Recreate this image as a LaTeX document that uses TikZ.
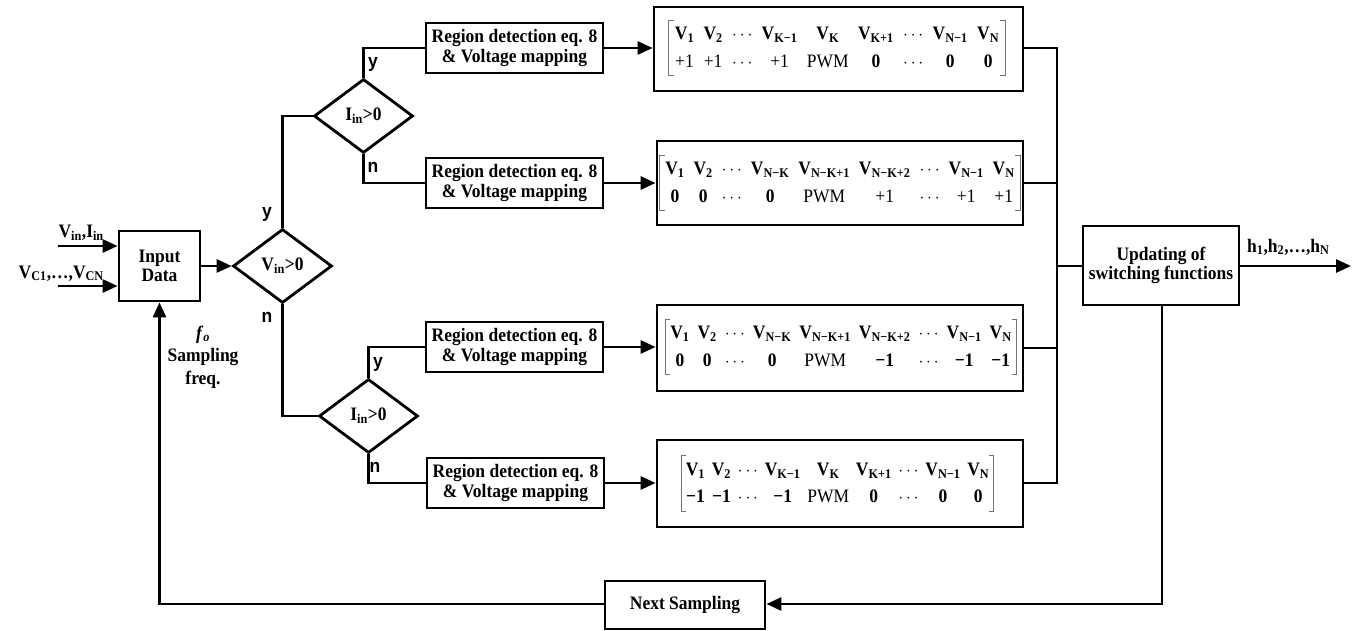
\documentclass[tikz,border=0pt]{standalone}
\usepackage{fontspec}
\setmainfont{Liberation Serif}[FakeStretch=0.92]
\newfontfamily\sansfam{Liberation Sans}[FakeStretch=0.92]
\usetikzlibrary{arrows.meta,shapes.geometric,calc}
\newcommand{\Vsub}[1]{V\textsubscript{#1}}
\newcommand{\mbrackets}[1]{%
  \draw[brk] ([xshift=5pt]#1.north west) -- (#1.north west) -- (#1.south west) -- ([xshift=5pt]#1.south west);
  \draw[brk] ([xshift=-5pt]#1.north east) -- (#1.north east) -- (#1.south east) -- ([xshift=-5pt]#1.south east);}
\tikzset{
  txt/.style={font=\fontsize{19}{19.5}\selectfont\bfseries},
  box/.style={draw, line width=2.8pt, rectangle, inner sep=0pt, align=center, txt},
  dia/.style={draw, diamond, line width=2.8pt, minimum width=99pt, minimum height=74pt, inner sep=0pt, txt},
  wire/.style={line width=2.8pt},
  arr/.style={wire, -{Triangle[length=15pt,width=13pt]}},
  yn/.style={font=\sansfam\bfseries\fontsize{19}{19}\selectfont, inner sep=0pt},
  lbl/.style={inner sep=0pt, txt},
  brk/.style={draw=black!55, line width=1pt},
  mtxt/.style={inner xsep=1pt, inner ysep=0pt, font=\fontsize{19}{27.5}\selectfont\bfseries}
}
\begin{document}
\begin{tikzpicture}[x=1pt,y=-1pt]
\useasboundingbox (0,0) rectangle (1359,631);
% main blocks
\node[box, minimum width=81pt, minimum height=70pt] (inp) at (159.5,266) {Input\\Data};
\node[dia] (d1) at (282.5,266) {V\textsubscript{in}>0};
\node[dia] (d2) at (363.5,116) {I\textsubscript{in}>0};
\node[dia] (d3) at (368.5,416) {I\textsubscript{in}>0};
\node[box, minimum width=177pt, minimum height=50pt] (r1) at (514.5,48) {Region detection eq. 8\\\& Voltage mapping};
\node[box, minimum width=177pt, minimum height=50pt] (r2) at (514.5,183) {Region detection eq. 8\\\& Voltage mapping};
\node[box, minimum width=177pt, minimum height=50pt] (r3) at (514.5,347) {Region detection eq. 8\\\& Voltage mapping};
\node[box, minimum width=177pt, minimum height=50pt] (r4) at (515.5,483) {Region detection eq. 8\\\& Voltage mapping};
\node[box, minimum width=369pt, minimum height=84pt] (m1) at (838.5,49) {};
\node[box, minimum width=366pt, minimum height=84pt] (m2) at (840,183) {};
\node[box, minimum width=366pt, minimum height=86pt] (m3) at (840,348) {};
\node[box, minimum width=366pt, minimum height=87pt] (m4) at (840,483.5) {};
\node[box, minimum width=156pt, minimum height=79pt] (upd) at (1161,265.5) {Updating of\\switching functions};
\node[box, minimum width=160pt, minimum height=48pt] (nxt) at (685,605) {Next Sampling};
% matrices
\node[mtxt] (t1) at ([xshift=-1.5pt,yshift=1pt]m1.center) {\setlength\tabcolsep{4.7pt}\begin{tabular}{ccccccccc}
\Vsub{1} & \Vsub{2} & $\cdots$ & \Vsub{K−1} & \Vsub{K} & \Vsub{K+1} & $\cdots$ & \Vsub{N−1} & \Vsub{N}\\
\mdseries +1 & \mdseries +1 & $\cdots$ & \mdseries +1 & \mdseries PWM & 0 & $\cdots$ & 0 & 0
\end{tabular}};
\node[mtxt] (t2) at (m2.center) {\setlength\tabcolsep{4.5pt}\begin{tabular}{ccccccccc}
\Vsub{1} & \Vsub{2} & $\cdots$ & \Vsub{N−K} & \Vsub{N−K+1} & \Vsub{N−K+2} & $\cdots$ & \Vsub{N−1} & \Vsub{N}\\
0 & 0 & $\cdots$ & 0 & \mdseries PWM & \mdseries +1 & $\cdots$ & \mdseries +1 & \mdseries +1
\end{tabular}};
\node[mtxt] (t3) at ([xshift=1pt,yshift=1pt]m3.center) {\setlength\tabcolsep{4pt}\begin{tabular}{ccccccccc}
\Vsub{1} & \Vsub{2} & $\cdots$ & \Vsub{N−K} & \Vsub{N−K+1} & \Vsub{N−K+2} & $\cdots$ & \Vsub{N−1} & \Vsub{N}\\
0 & 0 & $\cdots$ & 0 & \mdseries PWM & −1 & $\cdots$ & −1 & −1
\end{tabular}};
\node[mtxt] (t4) at ([xshift=-2.5pt]m4.center) {\setlength\tabcolsep{3.4pt}\begin{tabular}{ccccccccc}
\Vsub{1} & \Vsub{2} & $\cdots$ & \Vsub{K−1} & \Vsub{K} & \Vsub{K+1} & $\cdots$ & \Vsub{N−1} & \Vsub{N}\\
−1 & −1 & $\cdots$ & −1 & \mdseries PWM & 0 & $\cdots$ & 0 & 0
\end{tabular}};
\mbrackets{t1}
\mbrackets{t2}
\mbrackets{t3}
\mbrackets{t4}
% coordinates
\coordinate (in1) at (58,246);
\coordinate (in2) at (58,286);
\coordinate (c1) at (1057,48);
\coordinate (c4) at (1057,483);
\coordinate (cu) at (1057,266);
\coordinate (out) at (1351,266);
\coordinate (cr) at (1162,604);
\coordinate (cl) at (159.5,604);
% labels
\node[lbl, anchor=base east] (lin1) at (104,237) {V\textsubscript{in},I\textsubscript{in}};
\node[lbl, anchor=base east] (lin2) at (104,278) {V\textsubscript{C1},\ldots,V\textsubscript{CN}};
\node[lbl, align=center, font=\fontsize{19}{22.5}\selectfont\bfseries] (fs) at (203,357) {\textit{f}\textsubscript{\textit{o}}\\Sampling\\freq.};
\node[lbl, anchor=base west] (hout) at (1247,252) {h\textsubscript{1},h\textsubscript{2},\ldots,h\textsubscript{N}};
\node[yn] (y1) at (267,214) {y};
\node[yn] (n1) at (267,317) {n};
\node[yn] (y2) at (373,64) {y};
\node[yn] (n2) at (373,167) {n};
\node[yn] (y3) at (378,364) {y};
\node[yn] (n3) at (375,467) {n};
% connectors
\draw[arr] (in1) -- (in1 -| inp.west);
\draw[arr] (in2) -- (in2 -| inp.west);
\draw[arr] (inp.east) -- (d1.west);
\draw[wire] (d1.north) |- (d2.west);
\draw[wire] (d1.south) |- (d3.west);
\draw[wire] (d2.north) |- (r1.west);
\draw[wire] (d2.south) |- (r2.west);
\draw[wire] (d3.north) |- (r3.west);
\draw[wire] (d3.south) |- (r4.west);
\draw[arr] (r1.east) -- (r1.east -| m1.west);
\draw[arr] (r2.east) -- (r2.east -| m2.west);
\draw[arr] (r3.east) -- (r3.east -| m3.west);
\draw[arr] (r4.east) -- (r4.east -| m4.west);
\draw[wire] (m1.east |- c1) -- (c1) -- (c4) -- (m4.east |- c4);
\draw[wire] (m2.east) -- (m2.east -| c1);
\draw[wire] (m3.east) -- (m3.east -| c1);
\draw[wire] (cu) -- (upd.west |- cu);
\draw[arr] (upd.east |- out) -- (out);
\draw[arr] (upd.south -| cr) -- (cr) -- (cr -| nxt.east);
\draw[arr] (nxt.west |- cl) -- (cl) -- (inp.south);
\end{tikzpicture}
\end{document}
